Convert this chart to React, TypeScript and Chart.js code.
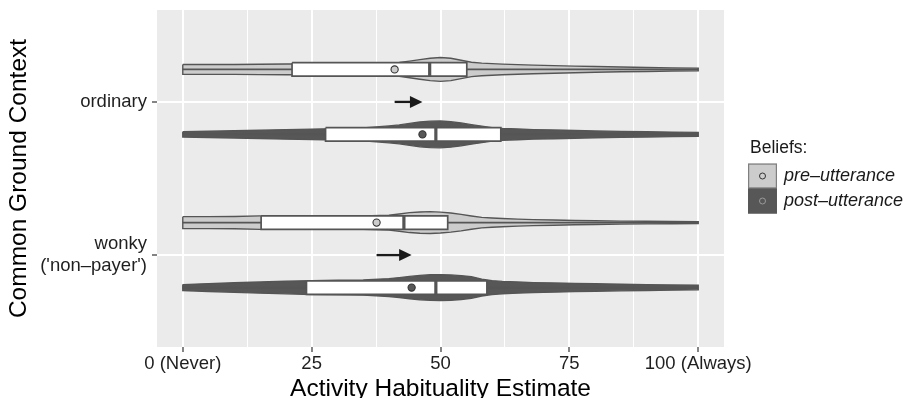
import { useEffect, useRef } from 'react';
import { Chart, registerables } from 'chart.js';

Chart.register(...registerables);

// ---------- data ----------
const contextLabels: (string | string[])[] = ['ordinary', ['wonky', "('non–payer')"]];
const beliefLabels = ['pre–utterance', 'post–utterance'];

const xMajorTicks = [0, 25, 50, 75, 100];
const xMajorLabels = ['0 (Never)', '25', '50', '75', '100 (Always)'];
const xMinorTicks = [12.5, 37.5, 62.5, 87.5];

// box stats: [lower whisker, Q1, median, Q3, upper whisker]
const ordinaryPreStats = [0, 21.2, 47.9, 55.1, 100];
const ordinaryPostStats = [0, 27.7, 49.1, 61.7, 100];
const wonkyPreStats = [0, 15.2, 42.9, 51.4, 100];
const wonkyPostStats = [0, 24.0, 49.1, 59.0, 100];

// means (pre, post) per context
const preMeans = [41.1, 37.6];
const postMeans = [46.5, 44.4];

// violin density (relative), evaluated on densityGrid
const densityGrid = [0, 5, 10, 15, 20, 25, 30, 35, 40, 42, 44, 46, 48, 50, 52, 54, 56, 58, 60, 62, 65, 68, 72, 76, 80, 85, 90, 95, 100];
const ordinaryPreDensity = [5, 5, 5, 5.2, 5.4, 5.5, 5.6, 5.8, 6.3, 7, 8.3, 9.8, 11.2, 12, 11.2, 9.2, 7.2, 6.3, 5.8, 5.3, 4.8, 4.3, 3.8, 3.3, 2.9, 2.4, 2, 1.6, 1.3];
const ordinaryPostDensity = [2.7, 3.2, 3.7, 4.2, 4.8, 5.3, 5.8, 6.5, 8.5, 9.5, 11, 12.5, 13.3, 13.5, 12.8, 11.5, 9.8, 8.3, 6.8, 6, 5.4, 4.8, 4.4, 3.9, 3.4, 3, 2.6, 2.3, 2];
const wonkyPreDensity = [6, 6, 6.2, 6.8, 6.8, 6.6, 6.5, 6.6, 7.5, 8.7, 10, 10.7, 11, 10.5, 9.6, 8.3, 6.7, 5.3, 4.6, 4.1, 3.5, 3, 2.6, 2.2, 1.9, 1.5, 1.3, 1.1, 1];
const wonkyPostDensity = [3, 4, 4.8, 5.6, 6.3, 7, 7.3, 7.6, 9, 10, 11.2, 12.2, 12.8, 13, 12.7, 12, 10.8, 8.5, 7, 6.2, 5.6, 5, 4.6, 4.1, 3.8, 3.3, 2.9, 2.6, 2.3];

// ---------- styling ----------
const FONT = '"Liberation Sans", Arial, Helvetica, sans-serif';
const DODGE = 0.212;
const BOX_HALF = 0.044;
const VIOLIN_SCALE = 0.0065;
const PRE_FILL = '#CCCCCC';
const POST_FILL = '#575757';
const OUTLINE = '#555555';
const PANEL_BG = '#EBEBEB';

type Group = { ctx: number; belief: number; stats: number[]; mean: number; density: number[] };
const groups: Group[] = [
  { ctx: 0, belief: 0, stats: ordinaryPreStats, mean: preMeans[0], density: ordinaryPreDensity },
  { ctx: 0, belief: 1, stats: ordinaryPostStats, mean: postMeans[0], density: ordinaryPostDensity },
  { ctx: 1, belief: 0, stats: wonkyPreStats, mean: preMeans[1], density: wonkyPreDensity },
  { ctx: 1, belief: 1, stats: wonkyPostStats, mean: postMeans[1], density: wonkyPostDensity },
];

function buildDatasets() {
  const ds: any[] = [];
  groups.forEach((g) => {
    const c = g.ctx + 1 + (g.belief === 0 ? -DODGE : DODGE);
    const fill = g.belief === 0 ? PRE_FILL : POST_FILL;
    const top = densityGrid.map((x, i) => ({ x, y: c - g.density[i] * VIOLIN_SCALE }));
    const bottom = densityGrid.map((x, i) => ({ x, y: c + g.density[i] * VIOLIN_SCALE })).reverse();
    const violin = [...top, ...bottom, top[0]];
    ds.push({
      data: violin, showLine: true, fill: 'shape', backgroundColor: fill, borderColor: OUTLINE,
      borderWidth: 1.4, pointRadius: 0, tension: 0, order: 50,
    });
    const [lo, q1, med, q3, hi] = g.stats;
    ds.push({
      data: [{ x: lo, y: c }, { x: q1, y: c }], showLine: true, borderColor: OUTLINE, borderWidth: 1.7,
      pointRadius: 0, fill: false, order: 40,
    });
    ds.push({
      data: [{ x: q3, y: c }, { x: hi, y: c }], showLine: true, borderColor: OUTLINE, borderWidth: 1.7,
      pointRadius: 0, fill: false, order: 40,
    });
    ds.push({
      data: [
        { x: q1, y: c - BOX_HALF }, { x: q3, y: c - BOX_HALF }, { x: q3, y: c + BOX_HALF },
        { x: q1, y: c + BOX_HALF }, { x: q1, y: c - BOX_HALF },
      ],
      showLine: true, fill: 'shape', backgroundColor: '#FFFFFF', borderColor: OUTLINE, borderWidth: 1.7,
      pointRadius: 0, tension: 0, order: 30,
    });
    ds.push({
      data: [{ x: med, y: c - BOX_HALF }, { x: med, y: c + BOX_HALF }], showLine: true,
      borderColor: OUTLINE, borderWidth: 3.2, pointRadius: 0, fill: false, order: 20,
    });
    ds.push({
      data: [{ x: g.mean, y: c }], showLine: false, pointRadius: 3.6, pointBackgroundColor: fill,
      pointBorderColor: '#333333', pointBorderWidth: 1.1, order: 10,
    });
  });
  return ds;
}

const panelBg = {
  id: 'panelBg',
  beforeDraw(chart: any) {
    const { ctx, chartArea: a } = chart;
    ctx.save();
    ctx.fillStyle = PANEL_BG;
    ctx.fillRect(a.left, a.top, a.right - a.left, a.bottom - a.top);
    ctx.restore();
  },
};

const arrows = {
  id: 'arrows',
  afterDatasetsDraw(chart: any) {
    const { ctx, scales } = chart;
    const xs = scales.x, ys = scales.y;
    contextLabels.forEach((_, i) => {
      const yy = ys.getPixelForValue(i + 1);
      const x0 = xs.getPixelForValue(preMeans[i]);
      const x1 = xs.getPixelForValue(postMeans[i]);
      const head = 12.5, hh = 6;
      ctx.save();
      ctx.strokeStyle = '#1a1a1a';
      ctx.fillStyle = '#1a1a1a';
      ctx.lineWidth = 2.3;
      ctx.beginPath();
      ctx.moveTo(x0, yy);
      ctx.lineTo(x1 - head + 1, yy);
      ctx.stroke();
      ctx.beginPath();
      ctx.moveTo(x1, yy);
      ctx.lineTo(x1 - head, yy - hh);
      ctx.lineTo(x1 - head, yy + hh);
      ctx.closePath();
      ctx.fill();
      ctx.restore();
    });
  },
};

const legendPlugin = {
  id: 'beliefLegend',
  afterDraw(chart: any) {
    const { ctx, chartArea: a } = chart;
    const left = a.right + 24;
    const mid = (a.top + a.bottom) / 2;
    ctx.save();
    ctx.textBaseline = 'middle';
    ctx.textAlign = 'left';
    ctx.fillStyle = '#1a1a1a';
    ctx.font = `17.5px ${FONT}`;
    ctx.fillText('Beliefs:', left + 2, mid - 30.5);
    const fills = [PRE_FILL, POST_FILL];
    const rings = ['#333333', '#9a9a9a'];
    beliefLabels.forEach((lab, i) => {
      const top = mid - 15 + i * 25;
      ctx.fillStyle = fills[i];
      ctx.fillRect(left, top, 29, 25);
      ctx.strokeStyle = i === 0 ? '#7f7f7f' : POST_FILL;
      ctx.lineWidth = 1.2;
      ctx.strokeRect(left + 0.6, top + 0.6, 27.8, 23.8);
      ctx.beginPath();
      ctx.arc(left + 14.5, top + 12.5, 3, 0, Math.PI * 2);
      ctx.fillStyle = fills[i];
      ctx.fill();
      ctx.strokeStyle = rings[i];
      ctx.lineWidth = 1;
      ctx.stroke();
      ctx.fillStyle = '#1a1a1a';
      ctx.font = `italic 18px ${FONT}`;
      ctx.fillText(lab, left + 36, top + 12.5);
    });
    ctx.restore();
  },
};

export default function App() {
  const ref = useRef<HTMLCanvasElement | null>(null);
  useEffect(() => {
    document.body.style.margin = '0';
    document.body.style.overflow = 'hidden';
    if (!ref.current) return;
    const allX = [...xMajorTicks, ...xMinorTicks].sort((a, b) => a - b);
    const isMajor = (v: number) => xMajorTicks.indexOf(v) >= 0;
    const chart = new Chart(ref.current, {
      type: 'scatter',
      data: { datasets: buildDatasets() },
      plugins: [panelBg, arrows, legendPlugin],
      options: {
        animation: false,
        responsive: false,
        devicePixelRatio: 1,
        events: [],
        layout: { padding: { top: 10, right: 190, bottom: 0, left: 0 } },
        plugins: { legend: { display: false }, tooltip: { enabled: false } },
        scales: {
          x: {
            type: 'linear', min: -5, max: 105,
            afterBuildTicks: (s: any) => { s.ticks = allX.map((v) => ({ value: v })); },
            afterFit: (s: any) => { s.height = 51; s.paddingLeft = 0; s.paddingRight = 0; },
            ticks: {
              autoSkip: false, maxRotation: 0, padding: 1, color: '#1f1f1f',
              font: { family: FONT, size: 18.5 },
              callback: (v: any) => { const i = xMajorTicks.indexOf(v); return i >= 0 ? xMajorLabels[i] : ''; },
            },
            grid: {
              color: '#FFFFFF',
              lineWidth: (c: any) => (c.tick && isMajor(c.tick.value) ? 2 : 1),
              tickColor: (c: any) => (c.tick && isMajor(c.tick.value) ? '#333333' : 'rgba(0,0,0,0)'),
              tickLength: 5, tickWidth: 1.2,
            },
            border: { display: false },
            title: {
              display: true, text: 'Activity Habituality Estimate', color: '#000000',
              font: { family: FONT, size: 24.5, lineHeight: 1 }, padding: { top: 0, bottom: -3 },
            },
          },
          y: {
            type: 'linear', min: 0.4, max: 2.6, reverse: true,
            afterBuildTicks: (s: any) => { s.ticks = contextLabels.map((_, i) => ({ value: i + 1 })); },
            afterFit: (s: any) => { s.width = 157; s.paddingTop = 0; s.paddingBottom = 0; },
            ticks: {
              autoSkip: false, padding: 5, color: '#1f1f1f',
              font: { family: FONT, size: 18.5, lineHeight: 1.2 },
              callback: (v: any) => contextLabels[Math.round(v) - 1] as any,
            },
            grid: { color: '#FFFFFF', lineWidth: 2, tickColor: '#333333', tickLength: 5, tickWidth: 1.2 },
            border: { display: false },
            title: {
              display: true, text: 'Common Ground Context', color: '#000000',
              font: { family: FONT, size: 24.5, lineHeight: 1.2 }, padding: { top: 5, bottom: 0 },
            },
          },
        },
      } as any,
    });
    return () => chart.destroy();
  }, []);
  return <canvas ref={ref} width={914} height={398} style={{ display: 'block' }} />;
}
